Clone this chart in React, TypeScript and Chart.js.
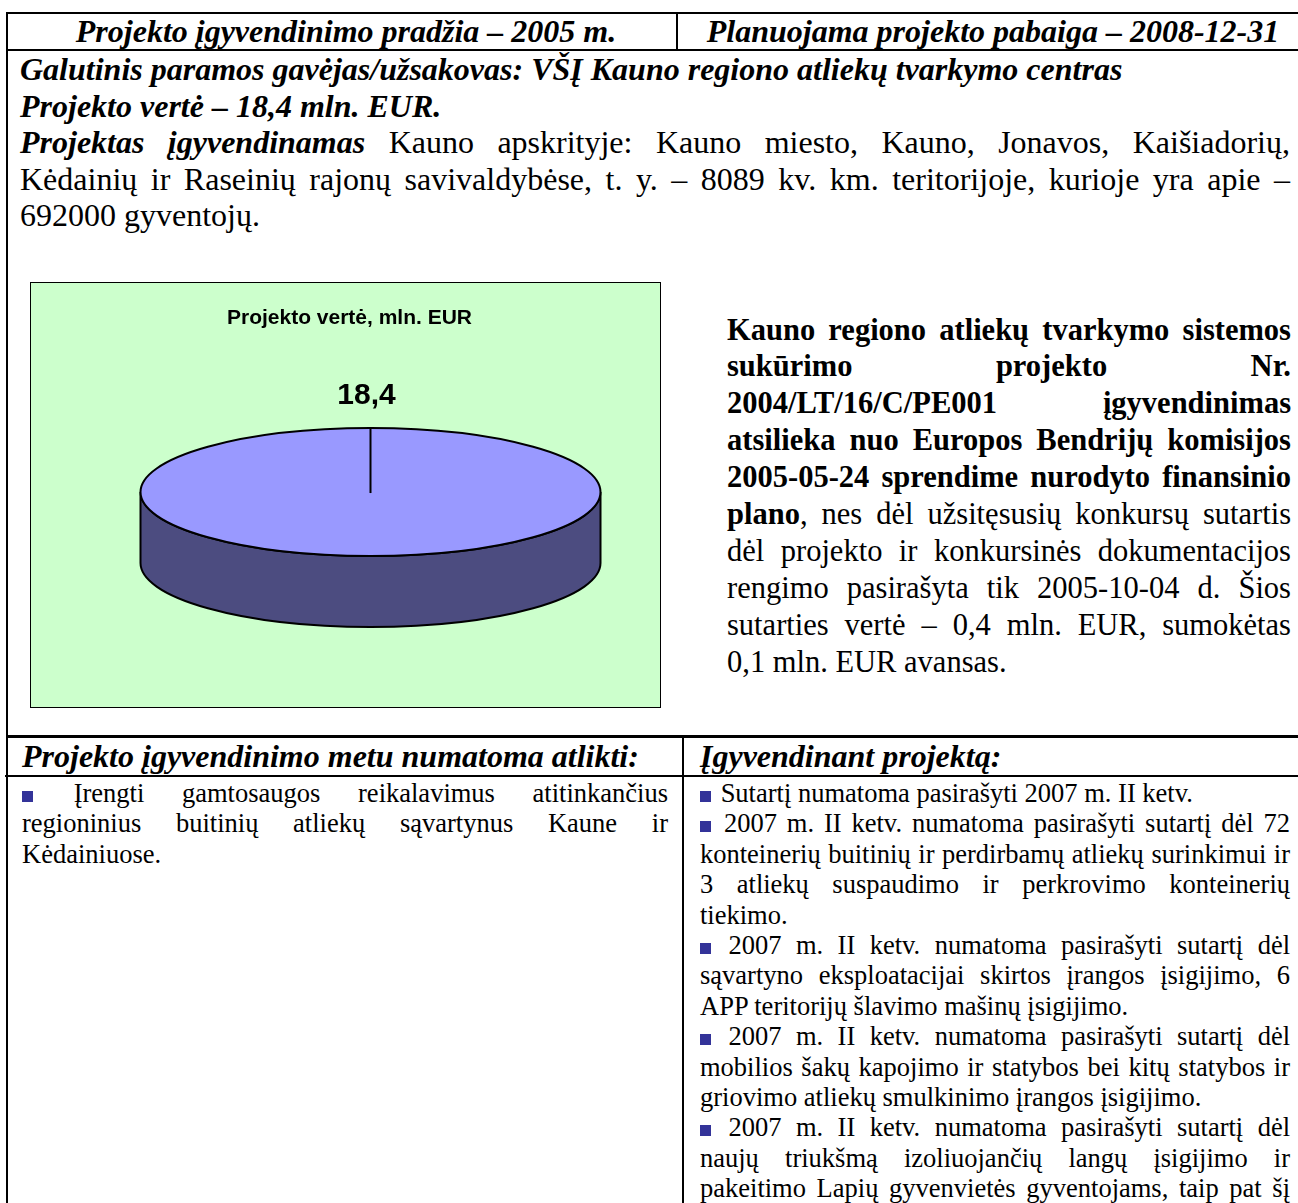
import React, { useEffect, useRef } from "react";
import { Chart, registerables } from "chart.js";

Chart.register(...registerables);

// ---------- chart data ----------
const categories: string[] = ["Projekto vertė"];
const seriesValues: number[] = [18.4];
const chartTitle = "Projekto vertė, mln. EUR";
const valueLabels: string[] = seriesValues.map((v) => v.toFixed(1).replace(".", ","));

// ---------- page text ----------
type Seg = { t: string; b?: boolean; i?: boolean };
type Line = { segs: Seg[]; justify?: boolean; bullet?: boolean };

const headerLeft = "Projekto įgyvendinimo pradžia – 2005 m.";
const headerRight = "Planuojama projekto pabaiga – 2008-12-31";

const introLines: Line[] = [
  { segs: [{ t: "Galutinis paramos gavėjas/užsakovas: VŠĮ Kauno regiono atliekų tvarkymo centras", b: true, i: true }] },
  { segs: [{ t: "Projekto vertė – 18,4 mln. EUR.", b: true, i: true }] },
  { segs: [{ t: "Projektas įgyvendinamas", b: true, i: true }, { t: " Kauno apskrityje: Kauno miesto, Kauno, Jonavos, Kaišiadorių," }], justify: true },
  { segs: [{ t: "Kėdainių ir Raseinių rajonų savivaldybėse, t. y. – 8089 kv. km. teritorijoje, kurioje yra apie –" }], justify: true },
  { segs: [{ t: "692000 gyventojų." }] },
];

const sideLines: Line[] = [
  { segs: [{ t: "Kauno regiono atliekų tvarkymo sistemos", b: true }], justify: true },
  { segs: [{ t: "sukūrimo projekto Nr.", b: true }], justify: true },
  { segs: [{ t: "2004/LT/16/C/PE001 įgyvendinimas", b: true }], justify: true },
  { segs: [{ t: "atsilieka nuo Europos Bendrijų komisijos", b: true }], justify: true },
  { segs: [{ t: "2005-05-24 sprendime nurodyto finansinio", b: true }], justify: true },
  { segs: [{ t: "plano", b: true }, { t: ", nes dėl užsitęsusių konkursų sutartis" }], justify: true },
  { segs: [{ t: "dėl projekto ir konkursinės dokumentacijos" }], justify: true },
  { segs: [{ t: "rengimo pasirašyta tik 2005-10-04 d. Šios" }], justify: true },
  { segs: [{ t: "sutarties vertė – 0,4 mln. EUR, sumokėtas" }], justify: true },
  { segs: [{ t: "0,1 mln. EUR avansas." }] },
];

const lowerLeftHeader = "Projekto įgyvendinimo metu numatoma atlikti:";
const lowerRightHeader = "Įgyvendinant projektą:";

const lowerLeftLines: Line[] = [
  { segs: [{ t: "Įrengti gamtosaugos reikalavimus atitinkančius" }], justify: true, bullet: true },
  { segs: [{ t: "regioninius buitinių atliekų sąvartynus Kaune ir" }], justify: true },
  { segs: [{ t: "Kėdainiuose." }] },
];

const lowerRightLines: Line[] = [
  { segs: [{ t: "Sutartį numatoma pasirašyti 2007 m. II ketv." }], bullet: true },
  { segs: [{ t: "2007 m. II ketv. numatoma pasirašyti sutartį dėl 72" }], justify: true, bullet: true },
  { segs: [{ t: "konteinerių buitinių ir perdirbamų atliekų surinkimui ir" }], justify: true },
  { segs: [{ t: "3 atliekų suspaudimo ir perkrovimo konteinerių" }], justify: true },
  { segs: [{ t: "tiekimo." }] },
  { segs: [{ t: "2007 m. II ketv. numatoma pasirašyti sutartį dėl" }], justify: true, bullet: true },
  { segs: [{ t: "sąvartyno eksploatacijai skirtos įrangos įsigijimo, 6" }], justify: true },
  { segs: [{ t: "APP teritorijų šlavimo mašinų įsigijimo." }] },
  { segs: [{ t: "2007 m. II ketv. numatoma pasirašyti sutartį dėl" }], justify: true, bullet: true },
  { segs: [{ t: "mobilios šakų kapojimo ir statybos bei kitų statybos ir" }], justify: true },
  { segs: [{ t: "griovimo atliekų smulkinimo įrangos įsigijimo." }] },
  { segs: [{ t: "2007 m. II ketv. numatoma pasirašyti sutartį dėl" }], justify: true, bullet: true },
  { segs: [{ t: "naujų triukšmą izoliuojančių langų įsigijimo ir" }], justify: true },
  { segs: [{ t: "pakeitimo Lapių gyvenvietės gyventojams, taip pat šį" }], justify: true },
];

// ---------- styles ----------
const SERIF = '"Liberation Serif", "Times New Roman", serif';
const SANS = '"Liberation Sans", Arial, sans-serif';
const TOP_COLOR = "#9999FF";
const SIDE_COLOR = "#4C4C80";
const CHART_BG = "#CCFFCC";
const BULLET_COLOR = "#333399";
const TILT = 0.278;
const DEPTH = 71;
const VIEW_SHIFT_X = 21;
const PIE_RADIUS = 230;

const pie3d = {
  id: "pie3d",
  beforeDatasetsDraw(chart: any) {
    const ctx = chart.ctx as CanvasRenderingContext2D;
    ctx.save();
    const arc = chart.getDatasetMeta(0).data[0] as any;
    if (!arc) return;
    const { x, y, outerRadius } = arc;
    const X = x + VIEW_SHIFT_X;
    const Y = y;
    const rx = outerRadius;
    const ry = outerRadius * TILT;
    ctx.beginPath();
    ctx.moveTo(X - rx, Y);
    ctx.lineTo(X - rx, Y + DEPTH);
    ctx.ellipse(X, Y + DEPTH, rx, ry, 0, Math.PI, 0, true);
    ctx.lineTo(X + rx, Y);
    ctx.ellipse(X, Y, rx, ry, 0, 0, Math.PI, false);
    ctx.closePath();
    ctx.fillStyle = SIDE_COLOR;
    ctx.fill();
    ctx.lineWidth = 2;
    ctx.strokeStyle = "#000";
    ctx.stroke();
    ctx.translate(X, Y);
    ctx.scale(1, TILT);
    ctx.translate(-x, -y);
  },
  afterDatasetsDraw(chart: any) {
    const ctx = chart.ctx as CanvasRenderingContext2D;
    ctx.restore();
    const arc = chart.getDatasetMeta(0).data[0] as any;
    if (!arc) return;
    const { x, y, outerRadius } = arc;
    const X = x + VIEW_SHIFT_X;
    const Y = y;
    const rx = outerRadius;
    const ry = outerRadius * TILT;
    ctx.save();
    ctx.lineWidth = 2;
    ctx.strokeStyle = "#000";
    ctx.beginPath();
    ctx.ellipse(X, Y, rx, ry, 0, 0, Math.PI * 2);
    ctx.stroke();
    ctx.beginPath();
    ctx.moveTo(X, Y - ry);
    ctx.lineTo(X, Y + 1);
    ctx.stroke();
    ctx.fillStyle = "#000";
    ctx.font = `bold 30px ${SANS}`;
    ctx.textAlign = "center";
    ctx.textBaseline = "middle";
    ctx.fillText(valueLabels[0], X - 4, Y - ry - 32);
    ctx.restore();
  },
};

function PieChart() {
  const ref = useRef<HTMLCanvasElement | null>(null);
  useEffect(() => {
    if (!ref.current) return;
    const chart = new Chart(ref.current, {
      type: "pie",
      data: {
        labels: categories,
        datasets: [
          {
            data: seriesValues,
            backgroundColor: [TOP_COLOR],
            borderWidth: 0,
            radius: PIE_RADIUS,
          } as any,
        ],
      },
      options: {
        responsive: false,
        animation: false,
        events: [],
        layout: { padding: { left: 8, right: 0, top: 0, bottom: 53 } },
        plugins: {
          legend: { display: false },
          tooltip: { enabled: false },
          title: {
            display: true,
            text: chartTitle,
            color: "#000",
            font: { family: SANS, size: 21, weight: "bold", lineHeight: 1.1 },
            padding: { top: 24, bottom: 0 },
          },
        },
      } as any,
      plugins: [pie3d as any],
    });
    return () => chart.destroy();
  }, []);
  return (
    <canvas
      ref={ref}
      width={629}
      height={424}
      style={{ display: "block", width: 629, height: 424, background: CHART_BG }}
    />
  );
}

function Bullet() {
  return (
    <span
      style={{
        display: "inline-block",
        width: 11,
        height: 11,
        background: BULLET_COLOR,
        marginRight: 3,
        verticalAlign: "baseline",
      }}
    />
  );
}

function TextLines(props: {
  lines: Line[];
  left: number;
  top: number;
  width: number;
  size: number;
  lh: number;
}) {
  const { lines, left, top, width, size, lh } = props;
  return (
    <div style={{ position: "absolute", left, top, width, fontFamily: SERIF, fontSize: size, lineHeight: `${lh}px`, color: "#000" }}>
      {lines.map((ln, k) => (
        <div
          key={k}
          style={{
            height: lh,
            textAlign: ln.justify ? "justify" : "left",
            textAlignLast: ln.justify ? "justify" : "left",
            whiteSpace: "nowrap",
          } as any}
        >
          {ln.bullet ? <Bullet /> : null}
          {ln.bullet ? " " : null}
          {ln.segs.map((s, j) => (
            <span key={j} style={{ fontWeight: s.b ? "bold" : "normal", fontStyle: s.i ? "italic" : "normal" }}>
              {s.t}
            </span>
          ))}
        </div>
      ))}
    </div>
  );
}

function Rule(props: { left: number; top: number; width: number; height: number }) {
  return <div style={{ position: "absolute", background: "#000", ...props }} />;
}

export default function App() {
  const headStyle: React.CSSProperties = {
    position: "absolute",
    fontFamily: SERIF,
    fontSize: 32,
    fontWeight: "bold",
    fontStyle: "italic",
    lineHeight: "37px",
    whiteSpace: "nowrap",
    color: "#000",
  };
  return (
    <div
      style={{
        position: "absolute",
        left: 0,
        top: 0,
        width: 1298,
        height: 1203,
        overflow: "hidden",
        background: "#fff",
      }}
    >
      {/* frame */}
      <Rule left={6} top={12} width={2} height={1200} />
      <Rule left={6} top={12} width={1300} height={2} />
      <Rule left={676} top={12} width={2} height={38} />
      <Rule left={6} top={49} width={1300} height={2} />
      <Rule left={6} top={735} width={1300} height={3} />
      <Rule left={682} top={735} width={2} height={480} />
      <Rule left={5} top={775} width={1300} height={2} />

      {/* header row */}
      <div style={{ ...headStyle, left: 12, top: 13, width: 668, textAlign: "center" }}>{headerLeft}</div>
      <div style={{ ...headStyle, left: 678, top: 13, width: 630, textAlign: "center" }}>{headerRight}</div>

      {/* intro text */}
      <TextLines lines={introLines} left={20} top={51} width={1270} size={32} lh={36.5} />

      {/* chart box */}
      <div style={{ position: "absolute", left: 30, top: 282, border: "1px solid #000", width: 629, height: 424 }}>
        <PieChart />
      </div>

      {/* side paragraph */}
      <TextLines lines={sideLines} left={727} top={311.5} width={564} size={30.5} lh={36.9} />

      {/* lower table headers */}
      <div style={{ ...headStyle, left: 22, top: 738 }}>{lowerLeftHeader}</div>
      <div style={{ ...headStyle, left: 700, top: 738 }}>{lowerRightHeader}</div>

      {/* lower content */}
      <TextLines lines={lowerLeftLines} left={22} top={778} width={646} size={26.5} lh={30.4} />
      <TextLines lines={lowerRightLines} left={700} top={778} width={590} size={26.5} lh={30.4} />
    </div>
  );
}
